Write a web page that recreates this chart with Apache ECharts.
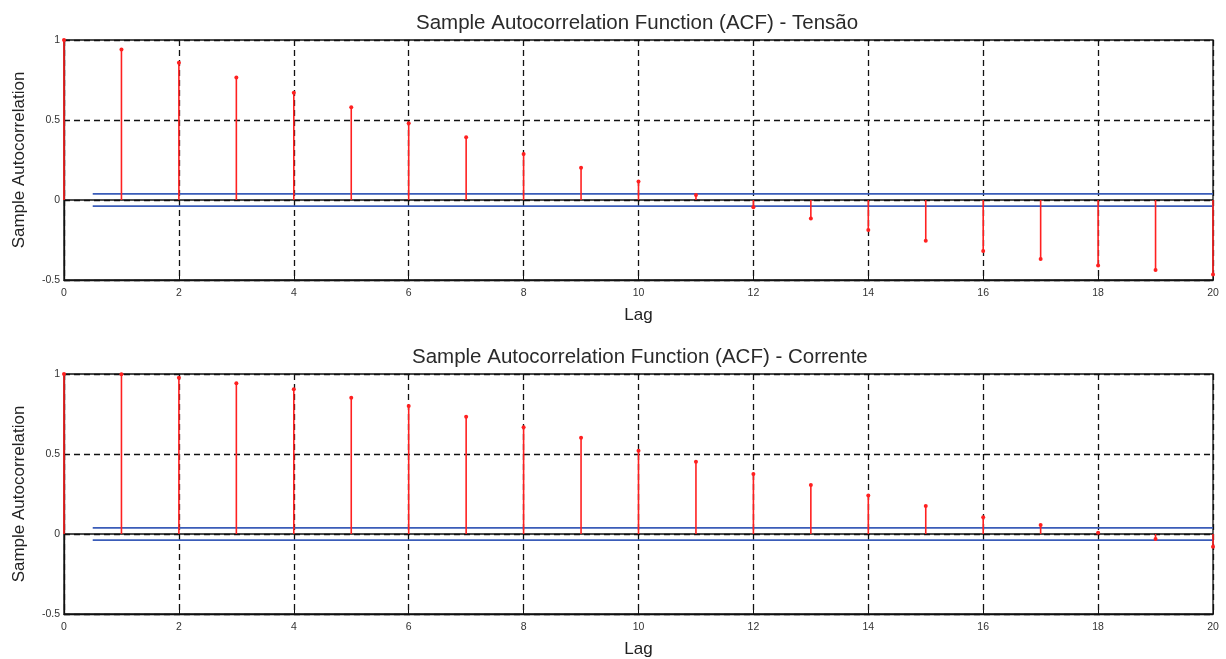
<!DOCTYPE html>
<html>
<head>
<meta charset="utf-8">
<script src="https://cdn.jsdelivr.net/npm/echarts@6/dist/echarts.min.js"></script>
<style>html,body{margin:0;padding:0;background:#fff}#c{width:1226px;height:659px}</style>
</head>
<body>
<div id="c"></div>
<script>
const lags = [0,1,2,3,4,5,6,7,8,9,10,11,12,13,14,15,16,17,18,19,20];
const acfTensao = [1,0.94,0.858,0.765,0.671,0.579,0.479,0.392,0.288,0.202,0.115,0.031,-0.046,-0.115,-0.188,-0.254,-0.319,-0.369,-0.41,-0.438,-0.465];
const acfCorrente = [1,0.998,0.977,0.942,0.904,0.852,0.80,0.733,0.667,0.602,0.521,0.452,0.375,0.306,0.24,0.175,0.104,0.056,0.008,-0.031,-0.079];
const bound = 0.038;
const boundStart = 0.5, boundEnd = 20;
const titles = ['Sample Autocorrelation Function (ACF) - Tensão','Sample Autocorrelation Function (ACF) - Corrente'];
const xTicks = [0,2,4,6,8,10,12,14,16,18,20];
const yTicks = [-0.5,0,0.5,1];

const FONT = '"Liberation Sans", Arial, sans-serif';
const chart = echarts.init(document.getElementById('c'));
const grids = [{left:64,right:13,top:40,height:240},{left:64,right:13,top:374,height:241}];
const datasets = [acfTensao, acfCorrente];
const titlePos = [{left:411,top:8},{left:407,top:342}];

const option = {
  animation:false,
  backgroundColor:'#fff',
  title: titles.map((t,i)=>({text:t,left:titlePos[i].left,top:titlePos[i].top,textStyle:{fontFamily:FONT,fontSize:20.5,fontWeight:'normal',color:'#2a2a2a'}})),
  grid: grids.map(g=>Object.assign({show:true,borderColor:'#111',borderWidth:1.3,backgroundColor:'transparent'},g)),
  xAxis: grids.map((g,i)=>({
    type:'value',gridIndex:i,min:0,max:20,interval:2,
    name:'Lag',nameLocation:'middle',nameGap:27,
    nameTextStyle:{fontFamily:FONT,fontSize:17,color:'#222'},
    axisLine:{show:true,onZero:false,lineStyle:{color:'#111',width:1.3}},
    axisTick:{show:true,inside:true,length:5,lineStyle:{color:'#111'}},
    axisLabel:{fontFamily:FONT,fontSize:10.5,color:'#333',margin:8},
    splitLine:{show:true,lineStyle:{color:'#111',type:[6,4],width:1.3}}
  })),
  yAxis: grids.map((g,i)=>({
    type:'value',gridIndex:i,min:-0.5,max:1,interval:0.5,
    name:'Sample Autocorrelation',nameLocation:'middle',nameGap:36,
    nameTextStyle:{fontFamily:FONT,fontSize:17,color:'#222'},
    axisLine:{show:true,lineStyle:{color:'#111',width:1.3}},
    axisTick:{show:true,inside:true,length:5,lineStyle:{color:'#111'}},
    axisLabel:{fontFamily:FONT,fontSize:10.5,color:'#333',margin:4,formatter:v=>String(v)},
    splitLine:{show:true,lineStyle:{color:'#111',type:[6,4],width:1.3}}
  })),
  series: []
};

datasets.forEach((d,i)=>{
  const pts = lags.map((l,k)=>[l,d[k]]);
  option.series.push({
    type:'line',xAxisIndex:i,yAxisIndex:i,data:[[0,0],[20,0]],symbol:'none',
    lineStyle:{color:'#111',width:1.3},silent:true,z:3
  });
  option.series.push({
    type:'custom',xAxisIndex:i,yAxisIndex:i,data:pts,z:5,
    renderItem:(params,api)=>{
      const p0 = api.coord([api.value(0),0]);
      const p1 = api.coord([api.value(0),api.value(1)]);
      return {type:'group',children:[
        {type:'line',shape:{x1:p0[0],y1:p0[1],x2:p1[0],y2:p1[1]},style:{stroke:'#ff2020',lineWidth:1.6}},
        {type:'circle',shape:{cx:p1[0],cy:p1[1],r:2},style:{fill:'#ff2020'}}
      ]};
    }
  });
  option.series.push({
    type:'line',xAxisIndex:i,yAxisIndex:i,data:[[boundStart,bound],[boundEnd,bound]],symbol:'none',
    lineStyle:{color:'#3a5cb8',width:1.6},silent:true,z:4
  });
  option.series.push({
    type:'line',xAxisIndex:i,yAxisIndex:i,data:[[boundStart,-bound],[boundEnd,-bound]],symbol:'none',
    lineStyle:{color:'#3a5cb8',width:1.6},silent:true,z:4
  });
});

chart.setOption(option);
</script>
</body>
</html>
